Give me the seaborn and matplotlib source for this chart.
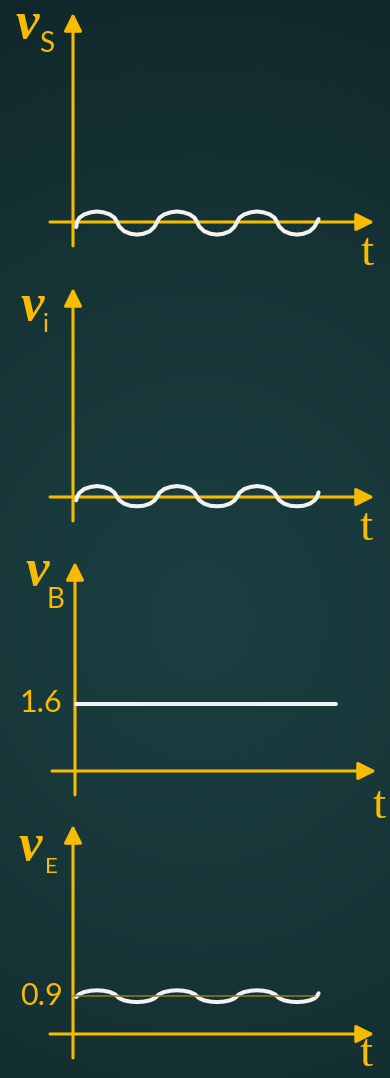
import numpy as np
import matplotlib
matplotlib.use('Agg')
import matplotlib.pyplot as plt
import seaborn as sns

sns.set_style('white')

W, H = 390, 1078
YEL = '#f7bb00'
WHITE = '#f2f2f2'
OLIVE = '#8f7d1c'

# time samples along the waves (1 unit = half a period)
t_wave = [0.08, 0.10, 0.16, 0.28, 0.44, 0.60, 0.76, 0.92, 1.04,
          1.10, 1.16, 1.28, 1.44, 1.60, 1.76, 1.92, 2.04,
          2.10, 2.16, 2.28, 2.44, 2.60, 2.76, 2.92, 3.04,
          3.10, 3.16, 3.28, 3.44, 3.60, 3.76, 3.92, 4.04,
          4.10, 4.16, 4.28, 4.44, 4.60, 4.76, 4.92, 5.04,
          5.10, 5.16, 5.28, 5.44, 5.60, 5.76, 5.92, 6.04,
          6.10, 6.14]

vs_wave = [-0.12, 0, 0.10, 0.18, 0.23, 0.25, 0.23, 0.18, 0.10,
           0, -0.11, -0.22, -0.28, -0.30, -0.28, -0.22, -0.11,
           0, 0.10, 0.18, 0.23, 0.25, 0.23, 0.18, 0.10,
           0, -0.11, -0.22, -0.28, -0.30, -0.28, -0.22, -0.11,
           0, 0.10, 0.18, 0.23, 0.25, 0.23, 0.18, 0.10,
           0, -0.11, -0.22, -0.28, -0.30, -0.28, -0.22, -0.11,
           0, 0.07]

vi_wave = [-0.08, 0, 0.10, 0.19, 0.24, 0.26, 0.24, 0.19, 0.10,
           0, -0.08, -0.16, -0.21, -0.22, -0.21, -0.16, -0.08,
           0, 0.10, 0.19, 0.24, 0.26, 0.24, 0.19, 0.10,
           0, -0.08, -0.16, -0.21, -0.22, -0.21, -0.16, -0.08,
           0, 0.10, 0.19, 0.24, 0.26, 0.24, 0.19, 0.10,
           0, -0.08, -0.16, -0.21, -0.22, -0.21, -0.16, -0.08,
           0, 0.11]

ve_wave = [0.88, 0.90, 0.95, 1.00, 1.03, 1.04, 1.03, 1.00, 0.95,
           0.90, 0.85, 0.80, 0.77, 0.76, 0.77, 0.80, 0.85,
           0.90, 0.95, 1.00, 1.03, 1.04, 1.03, 1.00, 0.95,
           0.90, 0.85, 0.80, 0.77, 0.76, 0.77, 0.80, 0.85,
           0.90, 0.95, 1.00, 1.03, 1.04, 1.03, 1.00, 0.95,
           0.90, 0.85, 0.80, 0.77, 0.76, 0.77, 0.80, 0.85,
           0.90, 0.97]

vb_t = [0.03, 6.53]
vb_val = [1.6, 1.6]
ve_dc_t = [0.0, 6.05]
ve_dc = [0.9, 0.9]

subs = ['S', 'i', 'B', 'E']
level_labels = ['1.6', '0.9']

fig = plt.figure(figsize=(3.9, 10.78), dpi=100)

# background gradient
bg = fig.add_axes([0, 0, 1, 1])
yy, xx = np.mgrid[0:H, 0:W]
r = np.sqrt((xx - 200) ** 2 + ((yy - 620) * 0.9) ** 2) / 650
r = np.clip(r, 0, 1)
inner = np.array([0x1b, 0x3e, 0x40]) / 255
outer = np.array([0x0f, 0x25, 0x28]) / 255
img = inner + (outer - inner) * r[..., None] ** 1.3
bg.imshow(img, aspect='auto', extent=[0, W, H, 0])
bg.set_axis_off()


def panel(top, bot, x0, y0):
    ax = fig.add_axes([0, 1 - bot / H, 1, (bot - top) / H])
    ax.set_xlim(-x0 / 40, (W - x0) / 40)
    ax.set_ylim(-(bot - y0) / 42, (y0 - top) / 42)
    ax.set_axis_off()
    ax.patch.set_alpha(0)
    arr = dict(arrowstyle='-|>,head_length=0.4,head_width=0.2', color=YEL,
               lw=2.2, mutation_scale=27, shrinkA=0, shrinkB=0)
    ax.annotate('', xy=(7.53, 0), xytext=(-0.575, 0), arrowprops=arr, zorder=1)
    ax.annotate('', xy=(0, 4.98), xytext=(0, -0.57), arrowprops=arr, zorder=1)
    return ax


def px(x, y):
    return x / W, 1 - y / H


line_kw = dict(color=WHITE, lw=2.9, sort=False, estimator=None,
               solid_capstyle='round', solid_joinstyle='round', zorder=3)

ax1 = panel(0, 272, 73, 222)
sns.lineplot(x=t_wave, y=vs_wave, ax=ax1, **line_kw)

ax2 = panel(272, 545, 73, 497)
sns.lineplot(x=t_wave, y=vi_wave, ax=ax2, **line_kw)

ax3 = panel(545, 822, 75, 771)
sns.lineplot(x=vb_t, y=vb_val, ax=ax3, **line_kw)

ax4 = panel(822, 1078, 73, 1034)
sns.lineplot(x=t_wave, y=ve_wave, ax=ax4, **line_kw)
sns.lineplot(x=ve_dc_t, y=ve_dc, ax=ax4, color=OLIVE, lw=1.1, sort=False,
             estimator=None, zorder=4)

# labels
v_pos = [(27, 38), (32, 320), (37, 585), (30, 860)]
sub_pos = [(47, 52), (46, 332), (55, 608), (51, 873)]
sub_size = [20, 18, 20, 16]
t_pos = [(367, 265), (366, 540), (379, 818), (366, 1066)]
for k in range(4):
    fig.text(*px(*v_pos[k]), 'v', family='Liberation Serif', style='italic',
             weight='bold', size=38, color=YEL, ha='center', va='baseline')
    fig.text(*px(*sub_pos[k]), subs[k], family='Lato', size=sub_size[k],
             color=YEL, ha='center', va='baseline')
    fig.text(*px(*t_pos[k]), 't', family='Liberation Serif', size=34,
             color=YEL, ha='center', va='baseline')

fig.text(*px(62, 712), level_labels[0], family='Lato', size=22,
         color=YEL, ha='right', va='baseline')
fig.text(*px(63, 1005), level_labels[1], family='Lato', size=22,
         color=YEL, ha='right', va='baseline')

fig.savefig('out.png', dpi=100)
